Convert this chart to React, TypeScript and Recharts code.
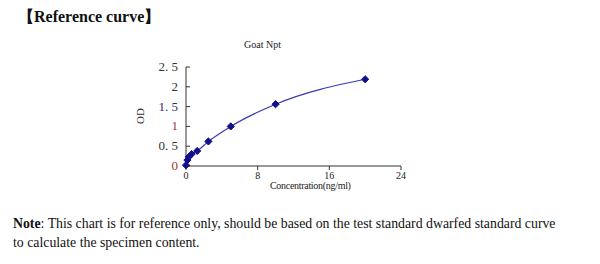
import React from 'react';
import { LineChart, Line, XAxis, YAxis } from 'recharts';

const concentrations = [0, 0.156, 0.312, 0.625, 1.25, 2.5, 5, 10, 20];
const odValues = [0.02, 0.15, 0.23, 0.3, 0.38, 0.62, 1.0, 1.56, 2.19];
const xTicks = [0, 8, 16, 24];
const yTicks = [0, 0.5, 1, 1.5, 2, 2.5];
const yTickLabels: Record<string, string> = { '0': '0', '0.5': '0. 5', '1': '1', '1.5': '1. 5', '2': '2', '2.5': '2. 5' };
const yTickColors: Record<string, string> = { '0': '#b03030', '0.5': '#333', '1': '#a04050', '1.5': '#303070', '2': '#333', '2.5': '#333' };

const data = concentrations.map((c, i) => ({ c, od: odValues[i] }));

const Diamond = (props: any) => {
  const { cx, cy } = props;
  if (cx == null || cy == null) return null;
  const r = 3.6;
  return <path d={`M${cx},${cy - r}L${cx + r},${cy}L${cx},${cy + r}L${cx - r},${cy}Z`} fill="#10108a" stroke="#10108a" />;
};

const YTick = (props: any) => {
  const { x, y, payload } = props;
  const key = String(payload.value);
  return (
    <text x={x} y={y} dy={4} textAnchor="end" fontFamily="'Liberation Serif', serif" fontSize={13} fill={yTickColors[key] || '#333'}>
      {yTickLabels[key] ?? key}
    </text>
  );
};

export default function App() {
  return (
    <div style={{ position: 'absolute', left: 0, top: 0, width: 600, height: 264, background: '#fff', fontFamily: "'Liberation Serif', serif" }}>
      <div style={{ position: 'absolute', left: 18, top: 7, fontSize: 16, fontWeight: 'bold', color: '#111', whiteSpace: 'nowrap' }}>
        【Reference curve】
      </div>
      <div style={{ position: 'absolute', left: 244, top: 39, fontSize: 10, color: '#222' }}>Goat Npt</div>
      <div style={{ position: 'absolute', left: 132, top: 110, fontSize: 11, color: '#333', transform: 'rotate(-90deg)' }}>OD</div>
      <div style={{ position: 'absolute', left: 270, top: 180, fontSize: 10, color: '#222', whiteSpace: 'nowrap', letterSpacing: -0.3 }}>Concentration(ng/ml)</div>
      <div style={{ position: 'absolute', left: 13, top: 214, fontSize: 13.8, color: '#111', lineHeight: '19px', whiteSpace: 'nowrap' }}>
        <b>Note</b>: This chart is for reference only, should be based on the test standard dwarfed standard curve
        <br />
        to calculate the specimen content.
      </div>
      <div style={{ position: 'absolute', left: 0, top: 0 }}>
        <LineChart width={600} height={264} data={data} margin={{ top: 67, right: 199, bottom: 78, left: 126 }}>
          <XAxis
            dataKey="c"
            type="number"
            domain={[0, 24]}
            ticks={xTicks}
            interval={0}
            stroke="#333"
            tickSize={4}
            tickMargin={2}
            tick={{ fontSize: 10, fill: '#222', fontFamily: "'Liberation Serif', serif" }}
            height={20}
          />
          <YAxis
            dataKey="od"
            type="number"
            domain={[0, 2.5]}
            ticks={yTicks}
            interval={0}
            stroke="#333"
            width={60}
            tickSize={-4}
            tickMargin={12}
            tick={<YTick />}
          />
          <Line
            dataKey="od"
            type="monotone"
            stroke="#3a3ab0"
            strokeWidth={1.2}
            dot={<Diamond />}
            activeDot={false}
            isAnimationActive={false}
          />
        </LineChart>
      </div>
    </div>
  );
}
